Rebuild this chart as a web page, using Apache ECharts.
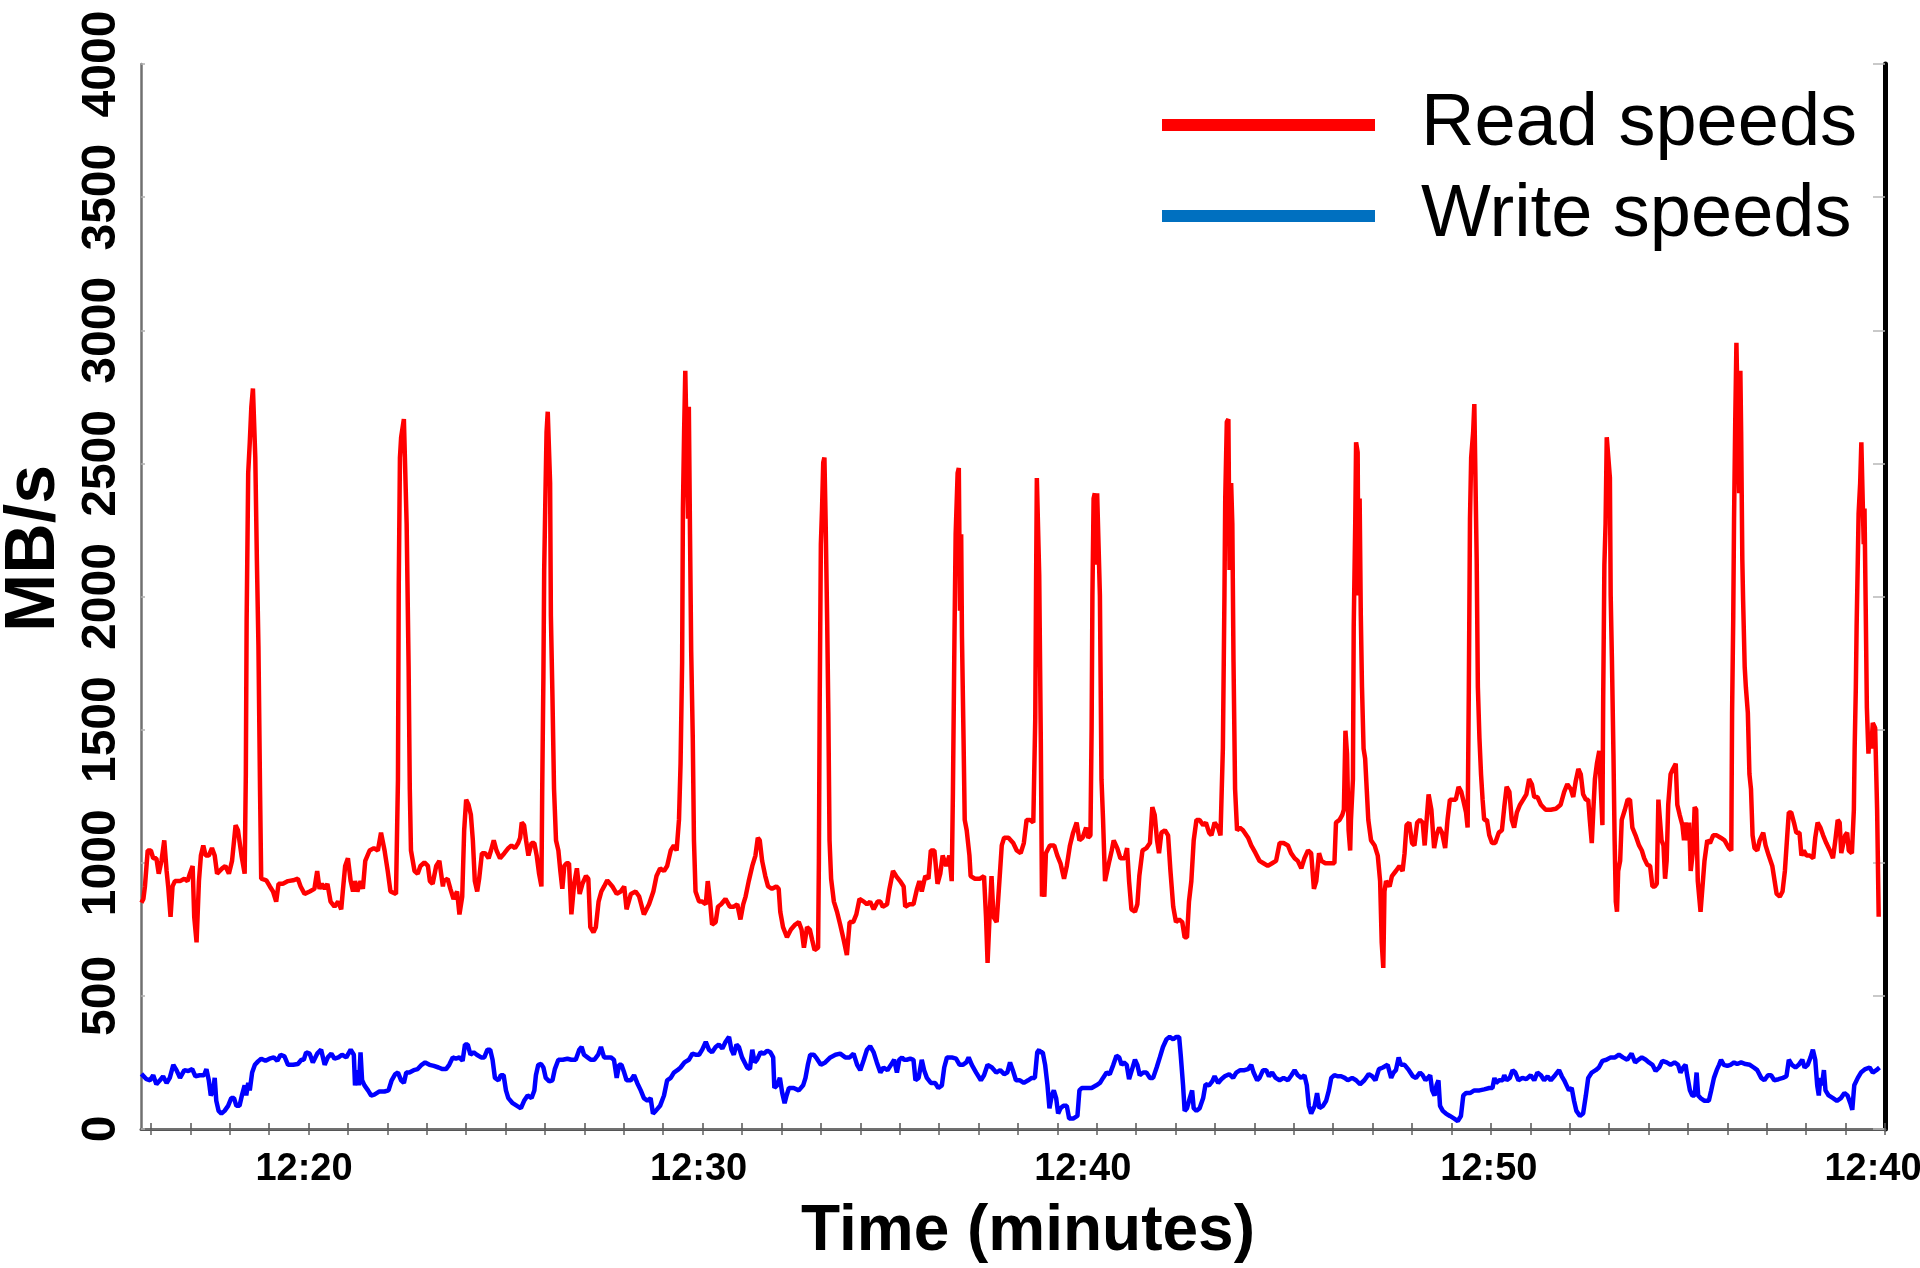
<!DOCTYPE html>
<html>
<head>
<meta charset="utf-8">
<script src="https://cdn.jsdelivr.net/npm/echarts@6/dist/echarts.min.js"></script>
<style>
html,body{margin:0;padding:0;background:#fff;}
#chart{width:1920px;height:1268px;}
</style>
</head>
<body>
<div id="chart"></div>
<script>
// x values are minutes after 12:00
const xTickValues = [16,17,18,19,20,21,22,23,24,25,26,27,28,29,30,31,32,33,34,35,36,37,38,39,40,41,42,43,44,45,46,47,48,49,50,51,52,53,54,55,56,57,58,59,60];
const xLabelValues = [20, 30, 40, 50, 60];
const xLabelTexts = ['12:20', '12:30', '12:40', '12:50', '12:40'];
const seriesNames = ['Read speeds', 'Write speeds'];

const readSpeeds = [
[15.76,850],[15.81,864],[15.85,911],[15.92,1046],[16.00,1046],[16.06,1017],[16.14,1017],[16.20,959],[16.27,1007],[16.34,1084],[16.40,969],[16.44,911],[16.50,797],[16.55,911],[16.61,931],[16.74,931],[16.85,940],[16.93,931],[16.99,959],[17.06,988],[17.10,797],[17.16,701],[17.22,931],[17.27,1027],[17.33,1065],[17.39,1027],[17.47,1027],[17.55,1055],[17.62,1027],[17.68,959],[17.81,979],[17.89,988],[17.98,959],[18.06,1007],[18.15,1141],[18.21,1122],[18.30,1027],[18.38,959],[18.41,1333],[18.43,1908],[18.47,2464],[18.51,2579],[18.55,2713],[18.59,2781],[18.62,2781],[18.65,2522],[18.69,2138],[18.73,1812],[18.77,1276],[18.80,940],[18.93,934],[19.02,911],[19.10,892],[19.18,854],[19.24,921],[19.35,921],[19.48,931],[19.61,934],[19.73,940],[19.80,911],[19.90,883],[20.03,892],[20.15,902],[20.22,969],[20.28,902],[20.34,921],[20.41,902],[20.48,921],[20.56,854],[20.66,835],[20.75,854],[20.83,825],[20.87,892],[20.93,988],[21.00,1017],[21.07,931],[21.13,892],[21.18,931],[21.24,892],[21.32,931],[21.38,902],[21.44,1007],[21.55,1046],[21.66,1055],[21.76,1046],[21.84,1113],[21.93,1046],[22.01,969],[22.08,892],[22.22,883],[22.27,1314],[22.29,2042],[22.32,2522],[22.35,2598],[22.42,2666],[22.46,2666],[22.49,2273],[22.54,1736],[22.57,1276],[22.60,1046],[22.69,969],[22.77,959],[22.84,988],[22.94,1001],[23.03,988],[23.08,931],[23.15,921],[23.24,988],[23.32,1007],[23.41,911],
[23.43,931],[23.53,940],[23.60,902],[23.68,864],[23.77,892],[23.83,806],[23.90,873],[23.95,1122],[24.00,1237],[24.06,1218],[24.12,1180],[24.17,1084],[24.22,931],[24.28,892],[24.33,940],[24.40,1036],[24.48,1036],[24.57,1017],[24.63,1046],[24.70,1084],[24.77,1046],[24.86,1017],[24.97,1036],[25.07,1055],[25.15,1065],[25.24,1055],[25.32,1074],[25.37,1094],[25.41,1151],[25.47,1141],[25.52,1084],[25.58,1027],[25.66,1074],[25.73,1074],[25.79,1027],[25.85,959],[25.91,911],[25.93,1276],[25.96,1697],[25.98,2100],[26.01,2368],[26.04,2617],[26.07,2694],[26.12,2694],[26.13,2426],[26.15,1927],[26.19,1621],[26.23,1276],[26.28,1084],[26.34,1046],[26.39,969],[26.44,902],[26.49,988],[26.55,998],[26.61,998],[26.67,806],[26.74,921],[26.81,979],[26.88,883],[26.95,921],[27.04,950],[27.10,940],[27.15,758],[27.23,739],[27.29,758],[27.36,854],[27.43,892],[27.50,911],[27.58,934],[27.71,911],[27.82,883],[27.92,892],[28.01,911],[28.07,825],[28.18,883],[28.30,892],[28.39,873],[28.51,806],[28.64,844],[28.75,892],[28.83,950],[28.92,979],[29.02,969],[29.10,988],[29.19,1046],[29.27,1065],[29.34,1046],[29.40,1161],[29.44,1372],[29.48,1755],[29.50,2330],[29.53,2617],[29.56,2848],[29.60,2848],[29.63,2292],[29.65,2713],[29.68,2234],[29.71,1793],[29.75,1467],[29.78,1084],[29.82,892],[29.91,854],[29.99,854],[30.08,844],[30.13,931],[30.19,854],[30.24,768],[30.33,777],[30.39,835],[30.47,844],[30.58,864],[30.69,835],[30.79,835],[30.88,844],[30.96,787],[31.03,844],
[31.09,873],[31.17,931],[31.26,988],[31.34,1027],[31.40,1094],[31.45,1084],[31.51,1007],[31.59,950],[31.66,911],[31.76,902],[31.87,911],[31.93,902],[31.97,816],[32.04,758],[32.14,720],[32.24,749],[32.35,768],[32.44,777],[32.51,749],[32.57,681],[32.61,681],[32.65,758],[32.72,749],[32.78,710],[32.84,672],[32.93,681],[32.95,1007],[32.97,1602],[33.00,2196],[33.03,2330],[33.06,2503],[33.09,2522],[33.12,2292],[33.16,1908],[33.19,1563],[33.22,1084],[33.26,940],[33.33,854],[33.41,816],[33.49,768],[33.58,710],[33.66,653],[33.73,777],[33.82,777],[33.90,806],[33.98,864],[34.09,854],[34.17,844],[34.25,854],[34.34,825],[34.44,854],[34.51,854],[34.57,835],[34.68,844],[34.74,902],[34.83,969],[34.91,950],[35.01,931],[35.10,911],[35.14,835],[35.25,844],[35.35,844],[35.44,902],[35.50,931],[35.56,892],[35.65,950],[35.73,940],[35.79,1046],[35.88,1046],[35.96,921],[36.03,959],[36.09,1027],[36.18,988],[36.26,1027],[36.32,931],[36.35,1257],[36.39,1851],[36.42,2234],[36.47,2464],[36.50,2483],[36.53,1947],[36.56,2234],[36.58,1851],[36.62,1467],[36.65,1161],[36.70,1122],[36.77,1027],[36.80,950],[36.91,940],[37.04,940],[37.14,950],[37.19,797],[37.23,624],[37.28,797],[37.33,950],[37.38,797],[37.46,777],[37.53,931],[37.59,1065],[37.65,1094],[37.76,1094],[37.88,1074],[37.97,1046],[38.07,1036],[38.15,1074],[38.22,1161],[38.31,1161],[38.39,1151],[38.43,1151],[38.44,1544],[38.46,2042],[38.48,2445],[38.52,2445],[38.54,2081],[38.58,1467],[38.61,873],
[38.64,892],[38.67,873],[38.71,1036],[38.81,1065],[38.92,1065],[39.00,1027],[39.08,998],[39.17,940],[39.24,988],[39.32,1065],[39.40,1113],[39.49,1151],[39.56,1084],[39.64,1094],[39.73,1132],[39.78,1094],[39.84,1103],[39.87,1506],[39.89,2004],[39.92,2368],[39.95,2388],[39.98,2119],[40.01,2388],[40.05,2388],[40.08,2004],[40.12,1314],[40.16,1161],[40.21,931],[40.25,931],[40.32,1007],[40.38,1046],[40.43,1084],[40.52,1055],[40.60,1017],[40.71,1017],[40.77,1055],[40.82,931],[40.88,825],[40.97,816],[41.03,844],[41.08,950],[41.16,1046],[41.26,1055],[41.35,1074],[41.41,1209],[41.47,1180],[41.53,1084],[41.58,1036],[41.64,1113],[41.73,1122],[41.81,1103],[41.87,969],[41.94,835],[42.01,777],[42.09,787],[42.17,777],[42.23,720],[42.29,720],[42.34,854],[42.40,931],[42.46,1084],[42.53,1161],[42.61,1161],[42.70,1141],[42.77,1151],[42.85,1113],[42.91,1103],[42.99,1151],[43.08,1132],[43.14,1103],[43.19,1103],[43.20,1429],[43.24,2004],[43.26,2368],[43.30,2656],[43.34,2666],[43.37,2100],[43.41,2426],[43.44,2273],[43.47,1755],[43.51,1276],[43.56,1122],[43.63,1132],[43.71,1122],[43.84,1094],[43.92,1065],[44.03,1036],[44.13,1007],[44.23,998],[44.34,988],[44.45,998],[44.55,1007],[44.64,1074],[44.74,1074],[44.85,1065],[44.93,1036],[45.02,1017],[45.10,1007],[45.19,979],[45.27,1017],[45.36,1046],[45.44,1036],[45.51,902],[45.57,931],[45.64,1036],[45.70,1007],[45.80,998],[45.95,998],[46.03,998],[46.07,1151],[46.16,1161],[46.23,1180],
[46.27,1199],[46.31,1496],[46.35,1410],[46.39,1122],[46.43,1046],[46.45,1161],[46.50,1314],[46.52,1889],[46.56,2292],[46.58,2579],[46.62,2541],[46.64,2004],[46.67,2368],[46.70,1927],[46.73,1659],[46.77,1429],[46.81,1391],[46.85,1276],[46.89,1161],[46.96,1084],[47.05,1065],[47.13,1027],[47.19,931],[47.23,701],[47.27,605],[47.30,892],[47.34,931],[47.43,911],[47.49,950],[47.59,969],[47.68,988],[47.76,969],[47.81,1036],[47.86,1141],[47.93,1151],[48.00,1074],[48.06,1065],[48.13,1151],[48.20,1161],[48.27,1151],[48.32,1065],[48.37,1161],[48.42,1257],[48.49,1199],[48.56,1055],[48.62,1103],[48.69,1132],[48.76,1113],[48.84,1055],[48.90,1161],[48.96,1237],[49.05,1237],[49.11,1237],[49.18,1285],[49.25,1266],[49.31,1228],[49.37,1189],[49.41,1132],[49.44,1640],[49.47,2292],[49.50,2522],[49.55,2617],[49.58,2723],[49.61,2723],[49.64,2138],[49.67,1659],[49.71,1467],[49.75,1333],[49.79,1237],[49.83,1161],[49.90,1161],[49.96,1103],[50.03,1074],[50.11,1074],[50.20,1113],[50.28,1122],[50.34,1209],[50.40,1285],[50.47,1266],[50.53,1161],[50.59,1132],[50.66,1189],[50.74,1218],[50.82,1237],[50.90,1257],[50.97,1314],[51.04,1295],[51.10,1247],[51.18,1247],[51.27,1218],[51.39,1199],[51.52,1199],[51.65,1203],[51.77,1218],[51.86,1266],[51.94,1295],[52.03,1276],[52.09,1247],[52.15,1304],[52.22,1352],[52.28,1333],[52.34,1257],[52.41,1237],[52.47,1237],[52.51,1161],[52.56,1074],[52.60,1199],[52.64,1314],[52.69,1372],[52.75,1420],[52.79,1276],[52.83,1141],[52.85,1621],[52.88,2119],[52.91,2273],[52.94,2598],[52.98,2598],[53.02,2445],[53.04,2004],[53.07,1774],[53.11,1410],[53.14,1084],[53.17,854],[53.20,816],[53.23,969],[53.28,1007],[53.32,1161],[53.40,1199],[53.47,1237],[53.53,1237],[53.59,1132],[53.67,1103],[53.76,1065],[53.83,1046],
[53.89,1017],[53.97,992],[54.04,988],[54.10,911],[54.16,911],[54.21,921],[54.25,1237],[54.29,1161],[54.33,1084],[54.38,1065],[54.42,940],[54.46,1007],[54.50,1218],[54.56,1333],[54.62,1352],[54.69,1372],[54.73,1218],[54.79,1180],[54.86,1141],[54.90,1084],[54.94,1151],[54.98,1084],[55.03,1151],[55.07,969],[55.13,1046],[55.17,1209],[55.21,1199],[55.25,931],[55.32,816],[55.37,816],[55.42,1007],[55.49,1084],[55.56,1074],[55.64,1103],[55.73,1103],[55.83,1094],[55.93,1084],[56.04,1055],[56.10,1046],[56.12,1563],[56.15,1927],[56.17,2292],[56.20,2656],[56.23,2953],[56.28,2953],[56.30,2388],[56.33,2848],[56.35,2617],[56.38,2138],[56.40,1985],[56.44,1736],[56.47,1659],[56.52,1563],[56.56,1333],[56.60,1276],[56.64,1103],[56.69,1055],[56.76,1046],[56.82,1084],[56.91,1113],[56.97,1065],[57.05,1027],[57.14,988],[57.20,931],[57.25,883],[57.33,873],[57.40,892],[57.46,969],[57.52,1103],[57.56,1189],[57.62,1189],[57.69,1151],[57.75,1113],[57.83,1113],[57.88,1027],[57.94,1046],[58.01,1027],[58.09,1027],[58.18,1017],[58.23,1094],[58.29,1151],[58.36,1132],[58.43,1103],[58.51,1074],[58.60,1046],[58.68,1017],[58.74,1084],[58.80,1161],[58.85,1151],[58.89,1036],[58.93,1065],[58.99,1103],[59.04,1113],[59.08,1046],[59.16,1036],[59.21,1199],[59.23,1429],[59.26,1659],[59.28,1889],[59.31,2138],[59.33,2311],[59.37,2426],[59.40,2579],[59.43,2579],[59.46,2196],[59.48,2330],[59.51,1966],[59.54,1582],[59.58,1410],[59.61,1487],[59.65,1429],[59.69,1525],[59.75,1506],[59.80,1199],[59.84,797]
];

const writeSpeeds = [
[15.76,207],[15.81,202],[15.89,187],[15.98,183],[16.06,202],[16.14,168],[16.23,183],[16.31,198],[16.40,173],[16.48,192],[16.57,241],[16.65,221],[16.74,192],[16.85,221],[16.95,218],[17.05,225],[17.13,198],[17.24,202],[17.35,202],[17.41,225],[17.47,183],[17.52,126],[17.58,145],[17.62,192],[17.66,106],[17.72,68],[17.79,58],[17.87,68],[17.96,87],[18.04,116],[18.11,116],[18.17,87],[18.25,87],[18.31,126],[18.38,164],[18.42,126],[18.47,173],[18.51,145],[18.57,212],[18.64,241],[18.72,254],[18.80,264],[18.91,256],[19.01,264],[19.12,269],[19.21,256],[19.29,279],[19.39,273],[19.48,241],[19.61,241],[19.73,244],[19.82,260],[19.88,260],[19.94,288],[20.03,283],[20.11,250],[20.22,283],[20.32,298],[20.41,241],[20.49,269],[20.58,283],[20.66,264],[20.76,269],[20.85,279],[20.96,269],[21.07,298],[21.15,279],[21.18,164],[21.24,221],[21.28,164],[21.32,288],[21.36,183],[21.42,164],[21.51,145],[21.59,126],[21.67,129],[21.80,141],[21.93,141],[22.03,145],[22.11,183],[22.20,206],[22.27,212],[22.35,183],[22.42,173],[22.48,212],[22.56,212],[22.67,221],[22.77,225],[22.87,241],[22.96,250],[23.07,241],[23.18,237],[23.30,231],[23.40,225],
[23.49,225],[23.57,241],[23.66,269],[23.74,264],[23.83,269],[23.91,256],[23.97,317],[24.04,317],[24.11,279],[24.19,288],[24.27,279],[24.38,269],[24.46,269],[24.54,298],[24.61,298],[24.67,260],[24.73,192],[24.82,183],[24.88,202],[24.95,202],[25.01,145],[25.07,116],[25.18,97],[25.29,87],[25.39,78],[25.47,106],[25.56,126],[25.66,116],[25.73,145],[25.77,202],[25.83,241],[25.90,244],[25.96,231],[26.02,192],[26.11,179],[26.19,183],[26.25,225],[26.34,260],[26.45,260],[26.57,264],[26.67,260],[26.78,260],[26.87,298],[26.93,308],[26.99,279],[27.08,269],[27.16,260],[27.25,260],[27.35,279],[27.42,308],[27.50,269],[27.59,269],[27.67,269],[27.75,260],[27.82,192],[27.88,241],[27.94,241],[28.01,212],[28.07,183],[28.18,183],[28.26,202],[28.34,173],[28.43,145],[28.51,116],[28.60,106],[28.68,116],[28.74,58],[28.81,68],[28.92,87],[29.02,126],[29.10,183],[29.19,192],[29.27,212],[29.36,221],[29.44,231],[29.54,250],[29.65,260],[29.74,283],[29.82,279],[29.91,279],[29.99,298],[30.08,327],[30.16,298],[30.24,288],[30.33,308],[30.41,317],[30.50,302],[30.58,327],[30.67,346],[30.73,298],[30.79,279],[30.86,317],[30.92,308],[31.00,269],
[31.05,269],[31.13,231],[31.20,225],[31.26,298],[31.32,250],[31.38,260],[31.47,288],[31.55,283],[31.64,294],[31.72,288],[31.79,269],[31.82,154],[31.89,164],[31.96,192],[32.02,135],[32.08,97],[32.13,126],[32.19,154],[32.31,154],[32.44,145],[32.55,164],[32.61,192],[32.67,241],[32.73,279],[32.82,279],[32.90,264],[33.00,241],[33.11,250],[33.24,269],[33.37,279],[33.49,283],[33.62,269],[33.73,269],[33.83,283],[33.92,241],[34.00,221],[34.09,260],[34.17,298],[34.25,311],[34.34,288],[34.42,250],[34.51,212],[34.59,231],[34.69,221],[34.78,241],[34.86,260],[34.93,212],[34.99,260],[35.06,269],[35.11,260],[35.18,260],[35.27,264],[35.35,260],[35.40,183],[35.48,192],[35.56,260],[35.62,221],[35.69,192],[35.79,173],[35.90,173],[35.98,154],[36.07,164],[36.13,231],[36.20,269],[36.32,269],[36.43,264],[36.52,241],[36.60,241],[36.69,250],[36.75,269],[36.83,241],[36.94,212],[37.06,183],[37.14,202],[37.23,241],[37.34,231],[37.45,212],[37.55,221],[37.65,206],[37.73,212],[37.80,250],[37.87,221],[37.95,183],[38.05,183],[38.15,173],[38.26,183],[38.35,192],[38.43,192],[38.49,288],[38.54,298],
[38.56,288],[38.63,288],[38.69,241],[38.75,164],[38.80,78],[38.86,126],[38.91,145],[38.97,116],[39.02,58],[39.08,78],[39.15,87],[39.24,87],[39.30,39],[39.40,39],[39.51,49],[39.56,145],[39.62,154],[39.74,154],[39.87,154],[39.99,164],[40.08,173],[40.16,192],[40.25,212],[40.33,206],[40.42,241],[40.50,275],[40.57,269],[40.63,241],[40.69,250],[40.76,241],[40.82,187],[40.89,221],[40.97,260],[41.03,241],[41.09,202],[41.18,212],[41.26,212],[41.35,192],[41.43,192],[41.52,231],[41.60,269],[41.68,308],[41.77,337],[41.85,346],[41.94,337],[42.02,346],[42.09,346],[42.13,279],[42.19,164],[42.23,68],[42.29,78],[42.36,116],[42.42,145],[42.46,78],[42.53,68],[42.61,78],[42.70,116],[42.76,168],[42.85,164],[42.93,179],[42.99,198],[43.08,173],[43.16,187],[43.25,198],[43.36,206],[43.46,192],[43.54,212],[43.64,221],[43.75,221],[43.84,225],[43.92,241],[43.98,212],[44.07,183],[44.13,192],[44.22,221],[44.30,221],[44.37,198],[44.45,212],[44.54,192],[44.64,183],[44.74,192],[44.85,183],[44.94,202],[45.02,221],[45.10,202],[45.19,192],[45.27,202],[45.33,164],[45.38,87],[45.44,58],[45.53,87],[45.59,135],[45.65,78],[45.74,87],[45.82,106],[45.89,145],[45.95,192],[46.03,202],[46.12,198],[46.20,198],
[46.29,192],[46.37,183],[46.48,192],[46.58,183],[46.68,168],[46.79,183],[46.90,206],[46.99,198],[47.07,183],[47.16,225],[47.26,231],[47.38,241],[47.47,192],[47.53,212],[47.59,221],[47.66,269],[47.72,241],[47.81,241],[47.92,221],[48.02,198],[48.10,192],[48.20,212],[48.27,202],[48.34,183],[48.40,192],[48.46,202],[48.51,145],[48.57,126],[48.62,164],[48.67,183],[48.71,87],[48.78,68],[48.86,58],[48.96,49],[49.07,39],[49.16,30],[49.24,49],[49.30,126],[49.37,135],[49.47,135],[49.58,145],[49.71,145],[49.83,149],[49.96,154],[50.04,154],[50.09,192],[50.13,173],[50.21,183],[50.30,183],[50.34,202],[50.40,183],[50.48,192],[50.55,221],[50.62,212],[50.70,183],[50.80,192],[50.90,187],[51.01,202],[51.10,183],[51.18,212],[51.27,202],[51.35,183],[51.44,198],[51.52,183],[51.63,202],[51.73,221],[51.80,198],[51.86,183],[51.92,164],[51.98,145],[52.05,154],[52.11,106],[52.17,68],[52.26,49],[52.34,58],[52.41,126],[52.47,192],[52.56,212],[52.66,221],[52.74,231],[52.83,256],[52.93,260],[53.04,269],[53.15,269],[53.25,279],[53.35,269],[53.46,260],[53.57,283],[53.66,250],[53.74,260],[53.83,269],
[53.93,260],[54.01,250],[54.10,241],[54.18,218],[54.27,231],[54.35,256],[54.46,250],[54.56,241],[54.66,250],[54.75,241],[54.81,212],[54.88,231],[54.94,241],[54.98,202],[55.05,145],[55.11,126],[55.17,126],[55.22,212],[55.26,126],[55.32,116],[55.42,106],[55.53,106],[55.59,145],[55.66,192],[55.73,221],[55.79,241],[55.84,260],[55.91,241],[56.00,237],[56.08,241],[56.17,250],[56.25,244],[56.35,250],[56.46,244],[56.57,241],[56.67,231],[56.76,221],[56.86,192],[56.94,183],[57.03,202],[57.11,202],[57.19,183],[57.30,187],[57.41,192],[57.50,198],[57.56,260],[57.64,241],[57.73,231],[57.81,241],[57.90,260],[57.96,231],[58.04,241],[58.11,269],[58.17,298],[58.23,260],[58.28,164],[58.32,126],[58.36,192],[58.40,164],[58.45,221],[58.49,145],[58.57,126],[58.68,116],[58.78,106],[58.88,116],[58.97,135],[59.05,126],[59.12,97],[59.17,72],[59.22,164],[59.31,192],[59.39,212],[59.50,225],[59.61,231],[59.69,212],[59.78,221],[59.86,231]
];

const chart = echarts.init(document.getElementById('chart'), null, {renderer: 'canvas'});
const FONT = "'Liberation Sans', Arial, Helvetica, sans-serif";

const xLabelRich = {
  s0: {padding: [0, 9, 0, 0]},
  s1: {padding: [0, 8, 0, 0]},
  s2: {padding: [0, 28, 0, 0]},
  s3: {padding: [0, 4, 0, 0]},
  s4: {padding: [0, 24, 0, 0]}
};
Object.keys(xLabelRich).forEach(k => {
  Object.assign(xLabelRich[k], {fontSize: 38, fontWeight: 'bold', fontFamily: FONT, color: '#000'});
});

const option = {
  animation: false,
  backgroundColor: '#fff',
  grid: {left: 141, right: 35, top: 64, bottom: 139, containLabel: false, outerBoundsMode: 'none'},
  legend: {
    orient: 'vertical',
    left: 1157,
    top: 80,
    icon: 'rect',
    itemWidth: 213,
    itemHeight: 12,
    itemGap: 11,
    data: [
      {name: seriesNames[0], itemStyle: {color: '#FF0000'}},
      {name: seriesNames[1], itemStyle: {color: '#0070C0'}}
    ],
    textStyle: {fontSize: 74, lineHeight: 80, fontFamily: FONT, color: '#000', padding: [0, 0, 0, 41]}
  },
  xAxis: [
    {
      type: 'value', position: 'bottom', min: 15.75, max: 60,
      name: 'Time (minutes)', nameLocation: 'middle', nameGap: 71,
      nameTextStyle: {fontSize: 64, fontWeight: 'bold', fontFamily: FONT, color: '#000', padding: [0, 0, 0, 30]},
      axisLine: {show: true, lineStyle: {color: '#555', width: 3}},
      axisTick: {show: true, inside: true, length: 6, customValues: xTickValues, lineStyle: {color: '#555', width: 1.5}},
      axisLabel: {
        show: true, margin: 22, customValues: xLabelValues,
        formatter: function (v) {
          const i = xLabelValues.indexOf(Math.round(v));
          return i < 0 ? '' : '{s' + i + '|' + xLabelTexts[i] + '}';
        },
        rich: xLabelRich
      },
      splitLine: {show: false}
    },
    {
      type: 'value', position: 'top', min: 15.75, max: 60,
      axisLine: {show: true, lineStyle: {color: '#707070', width: 2}},
      axisTick: {show: true, inside: true, length: 6, customValues: xTickValues, lineStyle: {color: '#606060', width: 1.5}},
      axisLabel: {show: false},
      splitLine: {show: false}
    }
  ],
  yAxis: [
    {
      type: 'value', position: 'left', min: 0, max: 4000, interval: 500,
      name: 'MB/s', nameLocation: 'middle', nameGap: 70, nameRotate: 90,
      nameTextStyle: {fontSize: 70, fontWeight: 'bold', fontFamily: FONT, color: '#000', padding: [0, 0, 0, 96]},
      axisLine: {show: true, lineStyle: {color: '#707070', width: 2.5}},
      axisTick: {show: true, inside: true, length: 4, lineStyle: {color: '#b0b0b0', width: 1.5}},
      axisLabel: {show: true, rotate: 90, margin: 15, fontSize: 48, fontWeight: 'bold', fontFamily: FONT, color: '#000',
        formatter: function (v) { return String(v); }},
      splitLine: {show: false}
    },
    {
      type: 'value', position: 'right', min: 0, max: 4000, interval: 500,
      axisLine: {show: true, lineStyle: {color: '#000', width: 5}},
      axisTick: {show: true, inside: true, length: 12, lineStyle: {color: '#b8b8b8', width: 1.5}},
      axisLabel: {show: false},
      splitLine: {show: false}
    }
  ],
  series: [
    {
      name: seriesNames[0], type: 'line', xAxisIndex: 0, yAxisIndex: 0,
      data: readSpeeds, showSymbol: false, symbol: 'none', smooth: false,
      lineStyle: {color: '#FF0000', width: 4.5}, itemStyle: {color: '#FF0000'}, z: 3
    },
    {
      name: seriesNames[1], type: 'line', xAxisIndex: 0, yAxisIndex: 0,
      data: writeSpeeds, showSymbol: false, symbol: 'none', smooth: false,
      lineStyle: {color: '#0000FF', width: 4.5}, itemStyle: {color: '#0000FF'}, z: 3
    }
  ]
};
chart.setOption(option);
</script>
</body>
</html>
